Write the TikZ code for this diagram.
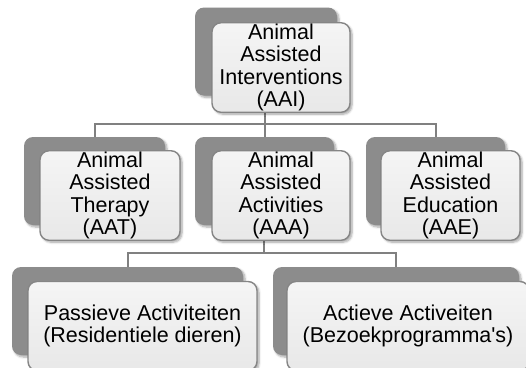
\documentclass[tikz,border=0pt]{standalone}
\usepackage{fontspec}
\setmainfont{Liberation Sans}[Ligatures=TeXOff]
\usetikzlibrary{shadows.blur}

\definecolor{backgray}{HTML}{8C8C8C}
\definecolor{linegray}{HTML}{808080}
\definecolor{frontborder}{HTML}{858585}

\tikzset{
  backbox/.style={rounded corners=9pt,fill=backgray,minimum height=88pt,
    blur shadow={shadow xshift=2pt,shadow yshift=-2pt,shadow blur steps=6,shadow opacity=35}},
  frontbox/.style={rounded corners=9pt,draw=frontborder,line width=1.4pt,
    top color=white!96!black,bottom color=white!91!black,minimum height=89pt,
    align=center,inner sep=1pt,font=\fontsize{21.5}{22.5}\selectfont,
    blur shadow={shadow xshift=2pt,shadow yshift=-2pt,shadow blur steps=6,shadow opacity=35}},
  conn/.style={draw=linegray,line width=2pt}
}

\begin{document}
\begin{tikzpicture}[x=1pt,y=-1pt]

      \useasboundingbox (0,0) rectangle (526,367);

      % connectors first, boxes on top
      \coordinate (j1) at (265,124);
      \coordinate (j2) at (264,253);

      \begin{scope}[every node/.style={backbox}]
        \node[minimum width=142pt] (aaiback) at (266,51.5) {};
        \node[minimum width=141pt] (aatback) at (94.5,181) {};
        \node[minimum width=139pt] (aaaback) at (264.5,181) {};
        \node[minimum width=139pt] (aaeback) at (435.5,181) {};
        \node[minimum width=231pt] (pasback) at (127.5,311) {};
        \node[minimum width=246pt] (actback) at (396,311) {};
      \end{scope}

      \begin{scope}[conn]
        \draw (aaiback.south -| j1) -- (j1);
        \draw (j1) -| (aatback.north);
        \draw (j1) -| (aaeback.north);
        \draw (j1) -- (aaaback.north -| j1);
        \draw (aaaback.south -| j2) -- (j2);
        \draw (j2) -| (pasback.north);
        \draw (j2) -| (actback.north);
      \end{scope}

      \begin{scope}[every node/.style={frontbox}]
        \node[minimum width=138pt] (aai) at (281,67.5) {Animal\\Assisted\\Interventions\\(AAI)};
        \node[minimum width=140pt] (aat) at (110,195.5) {Animal\\Assisted\\Therapy\\(AAT)};
        \node[minimum width=138pt] (aaa) at (281,195.5) {Animal\\Assisted\\Activities\\(AAA)};
        \node[minimum width=139pt] (aae) at (450.5,195.5) {Animal\\Assisted\\Education\\(AAE)};
        \node[minimum width=229pt] (pas) at (142.5,326) {Passieve Activiteiten\\(Residentiele dieren)};
        \node[minimum width=242pt] (act) at (408,326) {Actieve Activeiten\\(Bezoekprogramma's)};
      \end{scope}

    \end{tikzpicture}
\end{document}
